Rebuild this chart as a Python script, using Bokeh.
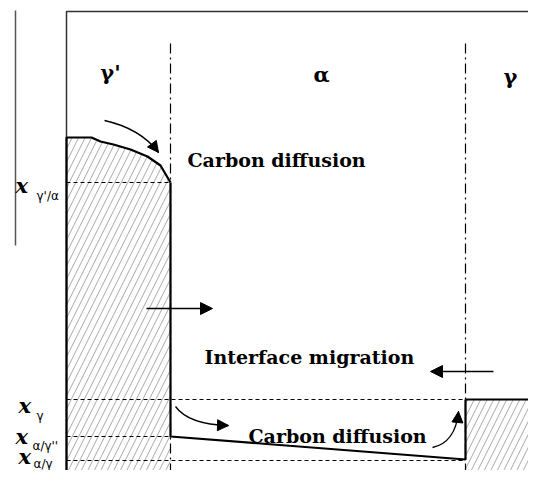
import numpy as np
from bokeh.plotting import figure
from bokeh.models import Range1d, Arrow, NormalHead
from bokeh.core.properties import value
from bokeh.embed import file_html
from bokeh.resources import INLINE

# ---- schematic data (distance units, carbon concentration units) ----
interface_x = [170, 465]            # gamma'/alpha and alpha/gamma interfaces
box_left = 66
axis_left = 15
right_end = 544

# gamma' (left) carbon profile
gp_x = [66, 91, 100, 113, 130, 147, 160, 170]
gp_c = [349, 349, 345, 342, 337, 330, 321, 304]
# alpha profile
al_x = [170, 170, 465, 465]
al_c = [304, 50, 27, 87]
# gamma (right) profile
ga_x = [465, 544]
ga_c = [87, 87]

# concentration levels shown with dashed lines
level_names = ["γ'/α", "γ", "α/γ''", "α/γ"]
level_c = [304, 87, 50, 26]
level_xend = [170, 465, 170, 465]

phase_labels = ["γ'", "α", "γ"]
phase_x = [110, 321, 510]
phase_c = [414, 412, 410]

FONT = value("DejaVu Serif")

p = figure(width=528, height=470, output_backend="svg", toolbar_location=None,
           x_range=Range1d(0, 528), y_range=Range1d(16, 486), min_border=0)
p.axis.visible = False
p.grid.visible = False
p.outline_line_color = None

# hatched areas
hatch = dict(fill_color="white", line_color=None, hatch_pattern="/",
             hatch_color="#a8a8a8", hatch_scale=13, hatch_weight=1)
p.patch(gp_x + [170, 66], gp_c + [0, 0], **hatch)
p.patch(ga_x + [544, 465], ga_c + [0, 0], **hatch)

# frame lines
p.line([axis_left, axis_left], [476, 241], line_color="#555555", line_width=1.5)
p.line([box_left, box_left, right_end], [0, 475, 475], line_color="#333333", line_width=1.5)

# interfaces (dash-dot)
for xi in interface_x:
    p.line([xi, xi], [443, 0], line_color="black", line_width=1.2, line_dash="10 4 2 4")

# dashed concentration levels
for c, xe in zip(level_c, level_xend):
    p.line([box_left, xe], [c, c], line_color="black", line_width=1, line_dash="4 3")

# profiles
p.line([66] + gp_x, [0] + gp_c, line_color="black", line_width=2.2)
p.line(al_x, al_c, line_color="black", line_width=2.2)
p.line(ga_x, ga_c, line_color="black", line_width=2.2)

# phase labels
p.text(phase_x, phase_c, text=phase_labels, text_font=FONT, text_font_style="bold",
       text_font_size="21px", text_align="center", text_baseline="middle", text_color="black")

# annotation texts
p.text([187, 204, 248], [327, 130, 51],
       text=["Carbon diffusion", "Interface migration", "Carbon diffusion"],
       text_font=FONT, text_font_style="bold", text_font_size="19px",
       text_align="left", text_baseline="alphabetic", text_color="black")

# left level labels: x with subscripts
xlab_x = [15, 18, 15, 18]
xlab_c = [301, 81, 50, 30]
sub_x = [36, 36, 32, 33]
sub_c = [291, 71, 41, 23]
p.text(xlab_x, xlab_c, text=["x"] * 4, text_font=FONT, text_font_style="bold italic",
       text_font_size="21px", text_align="left", text_baseline="alphabetic", text_color="black")
p.text(sub_x, sub_c, text=level_names, text_font=value("DejaVu Sans"),
       text_font_size="12px", text_align="left", text_baseline="alphabetic", text_color="black")

# straight arrows (interface migration)
p.add_layout(Arrow(end=NormalHead(size=12, fill_color="black", line_color="black"),
                   x_start=146, y_start=178, x_end=212, y_end=178, line_width=1.3))
p.add_layout(Arrow(end=NormalHead(size=12, fill_color="black", line_color="black"),
                   x_start=493, y_start=115, x_end=430, y_end=115, line_width=1.3))

# curved arrows (carbon diffusion)
curves = [((104, 366), (140, 358), (158, 334)),
          ((175, 80), (188, 62), (228, 61)),
          ((432, 39), (455, 44), (458, 75))]
for (x0, y0), (cx, cy), (x1, y1) in curves:
    p.quadratic(x0=[x0], y0=[y0], x1=[x1], y1=[y1], cx=[cx], cy=[cy],
                line_color="black", line_width=1.3)
    dx, dy = x1 - cx, y1 - cy
    n = np.hypot(dx, dy)
    p.add_layout(Arrow(end=NormalHead(size=11, fill_color="black", line_color="black"),
                       x_start=x1 - 3 * dx / n, y_start=y1 - 3 * dy / n,
                       x_end=x1, y_end=y1, line_alpha=0))

open("out.html", "w").write(file_html(p, INLINE))
